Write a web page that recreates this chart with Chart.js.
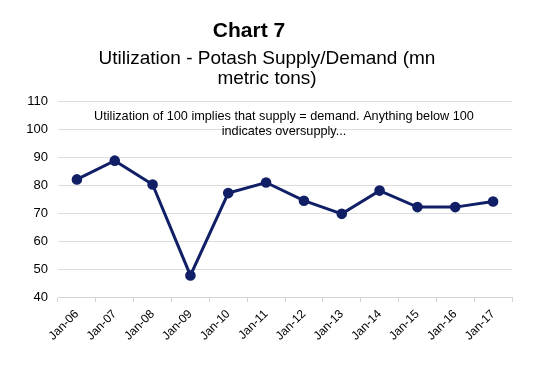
<!DOCTYPE html>
<html>
<head>
<meta charset="utf-8">
<script src="https://cdn.jsdelivr.net/npm/chart.js@4/dist/chart.umd.min.js"></script>
<style>
  html, body { margin: 0; padding: 0; background: #fff; }
  #wrap { position: relative; width: 540px; height: 372px; font-family: "Liberation Sans", Arial, sans-serif; color: #000; }
  #wrap canvas { position: absolute; left: 0; top: 0; }
  .t { position: absolute; white-space: nowrap; text-align: center; }
  #title { left: 149px; width: 200px; top: 18px; font-size: 21px; font-weight: bold; }
  #sub { left: 67px; width: 400px; top: 48px; font-size: 19px; line-height: 20px; }
</style>
</head>
<body>
<div id="wrap">
  <canvas id="chart" width="540" height="372"></canvas>
  <div class="t" id="title">Chart 7</div>
  <div class="t" id="sub">Utilization - Potash Supply/Demand (mn<br>metric tons)</div>
</div>
<script>
const labels = ['Jan-06', 'Jan-07', 'Jan-08', 'Jan-09', 'Jan-10', 'Jan-11',
                'Jan-12', 'Jan-13', 'Jan-14', 'Jan-15', 'Jan-16', 'Jan-17'];
const utilization = [82, 88.7, 80.2, 47.7, 77.1, 80.9, 74.4, 69.7, 78, 72.1, 72.1, 74.1];
const noteLines = ['Utilization of 100 implies that supply = demand. Anything below 100',
                   'indicates oversupply...'];

const navy = '#101f66';
const font = '"Liberation Sans", Arial, sans-serif';

// note text inside the plot
const notePlugin = {
    id: 'note',
    afterDraw(chart) {
        const c = chart.ctx;
        const area = chart.chartArea;
        c.save();
        c.font = '12.7px ' + font;
        c.fillStyle = '#000';
        c.textAlign = 'center';
        c.textBaseline = 'alphabetic';
        const cx = 284;
        noteLines.forEach((line, i) => c.fillText(line, cx, area.top + 18.5 + i * 15));
        c.restore();
    }
};

const ctx = document.getElementById('chart').getContext('2d');
const chart = new Chart(ctx, {
    type: 'line',
    data: {
        labels: labels,
        datasets: [{
            data: utilization,
            borderColor: navy,
            backgroundColor: navy,
            borderWidth: 3,
            pointRadius: 3.8,
            pointHoverRadius: 3.8,
            pointBackgroundColor: navy,
            pointBorderColor: navy,
            tension: 0
        }]
    },
    options: {
        responsive: false,
        animation: false,
        layout: { padding: { top: 101, right: 28, left: 0, bottom: 0 } },
        plugins: { legend: { display: false }, tooltip: { enabled: false } },
        scales: {
            x: {
                offset: true,
                grid: { offset: true, drawOnChartArea: false, drawTicks: true, tickLength: 5, color: '#d4d4d4' },
                border: { color: '#d4d4d4' },
                ticks: { color: '#000', font: { family: font, size: 12 }, minRotation: 45, maxRotation: 45, padding: 5 },
                afterFit(scale) { scale.height = 75; }
            },
            y: {
                min: 40,
                max: 110,
                ticks: { stepSize: 10, color: '#000', font: { family: font, size: 13 }, padding: 10 },
                grid: { color: '#dcdcdc', drawTicks: false },
                border: { display: false },
                afterFit(scale) { scale.width = 58; }
            }
        }
    },
    plugins: [notePlugin]
});
</script>
</body>
</html>
